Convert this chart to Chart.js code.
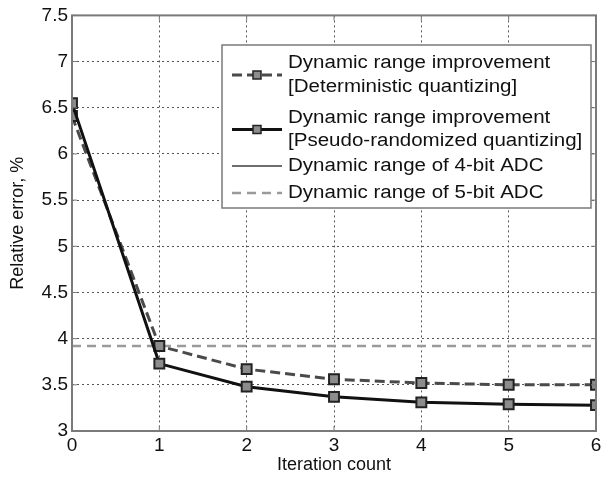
<!DOCTYPE html>
<html lang="en">
<head>
  <meta charset="UTF-8">
  <title>Relative error vs iteration count</title>
  <script src="https://cdn.jsdelivr.net/npm/chart.js"></script>
  <style>
    html, body { margin: 0; padding: 0; background: #fff; }
    #wrap { width: 605px; height: 482px; }
  </style>
</head>
<body>
  <div id="wrap"><canvas id="grafico" width="605" height="482"></canvas></div>

  <script>
    // data
    const iteraciones = [0, 1, 2, 3, 4, 5, 6];
    const deterministico = [6.41, 3.92, 3.67, 3.56, 3.52, 3.50, 3.50];
    const pseudoAleatorio = [6.55, 3.73, 3.48, 3.37, 3.31, 3.29, 3.28];
    const adc4bit = 7.84;   // above the visible range
    const adc5bit = 3.92;
    const etiquetas = [
      ['Dynamic range improvement', '[Deterministic quantizing]'],
      ['Dynamic range improvement', '[Pseudo-randomized quantizing]'],
      ['Dynamic range of 4-bit ADC'],
      ['Dynamic range of 5-bit ADC']
    ];

    const fuente = "'Liberation Sans', Arial, sans-serif";
    const puntos = arr => arr.map((v, i) => ({ x: iteraciones[i], y: v }));
    const horizontal = v => [{ x: iteraciones[0], y: v }, { x: iteraciones[iteraciones.length - 1], y: v }];

    // box, inward ticks and legend drawn in the plot area
    const marco = {
      id: 'marco',
      afterDraw(chart) {
        const { ctx, chartArea: a, scales } = chart;
        ctx.save();
        ctx.strokeStyle = '#7a7a7a';
        ctx.lineWidth = 2;
        ctx.strokeRect(a.left, a.top, a.right - a.left, a.bottom - a.top);
        ctx.lineWidth = 1;
        ctx.beginPath();
        scales.x.ticks.forEach(t => {
          const px = scales.x.getPixelForValue(t.value);
          ctx.moveTo(px, a.bottom); ctx.lineTo(px, a.bottom - 5);
          ctx.moveTo(px, a.top); ctx.lineTo(px, a.top + 5);
        });
        scales.y.ticks.forEach(t => {
          const py = scales.y.getPixelForValue(t.value);
          ctx.moveTo(a.left, py); ctx.lineTo(a.left + 5, py);
          ctx.moveTo(a.right, py); ctx.lineTo(a.right - 5, py);
        });
        ctx.stroke();

        // legend
        const x0 = 222, y0 = 45, w = 369, h = 163;
        ctx.fillStyle = '#fff';
        ctx.fillRect(x0, y0, w, h);
        ctx.strokeStyle = '#7a7a7a';
        ctx.lineWidth = 1.5;
        ctx.strokeRect(x0, y0, w, h);
        ctx.font = '18px ' + fuente;
        ctx.fillStyle = '#111';
        ctx.textBaseline = 'middle';
        const filas = [[63, 87], [118, 141], [166], [193]];
        chart.data.datasets.forEach((ds, i) => {
          const ys = filas[i];
          const yc = (ys[0] + ys[ys.length - 1]) / 2;
          ctx.save();
          ctx.strokeStyle = ds.borderColor;
          ctx.lineWidth = ds.borderWidth;
          ctx.setLineDash(ds.borderDash || []);
          ctx.beginPath();
          ctx.moveTo(232, yc); ctx.lineTo(282, yc);
          ctx.stroke();
          if (ds.pointRadius > 0) {
            ctx.setLineDash([]);
            ctx.fillStyle = ds.pointBackgroundColor;
            ctx.strokeStyle = ds.pointBorderColor;
            ctx.lineWidth = 1.5;
            ctx.fillRect(253, yc - 4, 8, 8);
            ctx.strokeRect(253, yc - 4, 8, 8);
          }
          ctx.restore();
          etiquetas[i].forEach((txt, k) => {
            ctx.save();
            ctx.translate(288, ys[k]);
            ctx.scale(1.14, 1);
            ctx.fillText(txt, 0, 0);
            ctx.restore();
          });
        });
        ctx.restore();
      }
    };

    const ctx = document.getElementById('grafico').getContext('2d');
    new Chart(ctx, {
      type: 'line',
      data: {
        datasets: [
          {
            label: etiquetas[0].join(' '),
            data: puntos(deterministico),
            borderColor: '#4a4a4a',
            borderWidth: 3,
            borderDash: [10, 5],
            pointStyle: 'rect',
            pointRadius: 7,
            pointBackgroundColor: '#8c8c8c',
            pointBorderColor: '#222',
            pointBorderWidth: 2,
            order: 2
          },
          {
            label: etiquetas[1].join(' '),
            data: puntos(pseudoAleatorio),
            borderColor: '#111',
            borderWidth: 3,
            pointStyle: 'rect',
            pointRadius: 7,
            pointBackgroundColor: '#8c8c8c',
            pointBorderColor: '#222',
            pointBorderWidth: 2,
            order: 1
          },
          {
            label: etiquetas[2][0],
            data: horizontal(adc4bit),
            borderColor: '#6e6e6e',
            borderWidth: 2,
            pointRadius: 0,
            order: 4
          },
          {
            label: etiquetas[3][0],
            data: horizontal(adc5bit),
            borderColor: '#9a9a9a',
            borderWidth: 2.5,
            borderDash: [9, 6],
            pointRadius: 0,
            order: 3
          }
        ]
      },
      options: {
        responsive: false,
        animation: false,
        layout: { padding: { top: 15, right: 3, left: 0, bottom: 0 } },
        plugins: { legend: { display: false }, tooltip: { enabled: false } },
        scales: {
          x: {
            type: 'linear',
            min: 0, max: 6,
            afterFit: s => { s.height = 51; },
            ticks: { stepSize: 1, color: '#111', font: { family: fuente, size: 19 }, padding: 3 },
            grid: { color: '#555', lineWidth: 1, drawTicks: false },
            border: { display: false, dash: [2, 3] },
            title: { display: true, text: 'Iteration count', color: '#111', font: { family: fuente, size: 18 }, padding: { top: 0, bottom: 6 } }
          },
          y: {
            min: 3, max: 7.5,
            afterFit: s => { s.width = 72; },
            ticks: {
              stepSize: 0.5, color: '#111', font: { family: fuente, size: 19 }, padding: 4,
              callback: v => String(v)
            },
            grid: { color: '#555', lineWidth: 1, drawTicks: false },
            border: { display: false, dash: [2, 3] },
            title: { display: true, text: 'Relative error, %', color: '#111', font: { family: fuente, size: 18 }, padding: { top: 7, bottom: 0 } }
          }
        }
      },
      plugins: [marco]
    });
  </script>
</body>
</html>
